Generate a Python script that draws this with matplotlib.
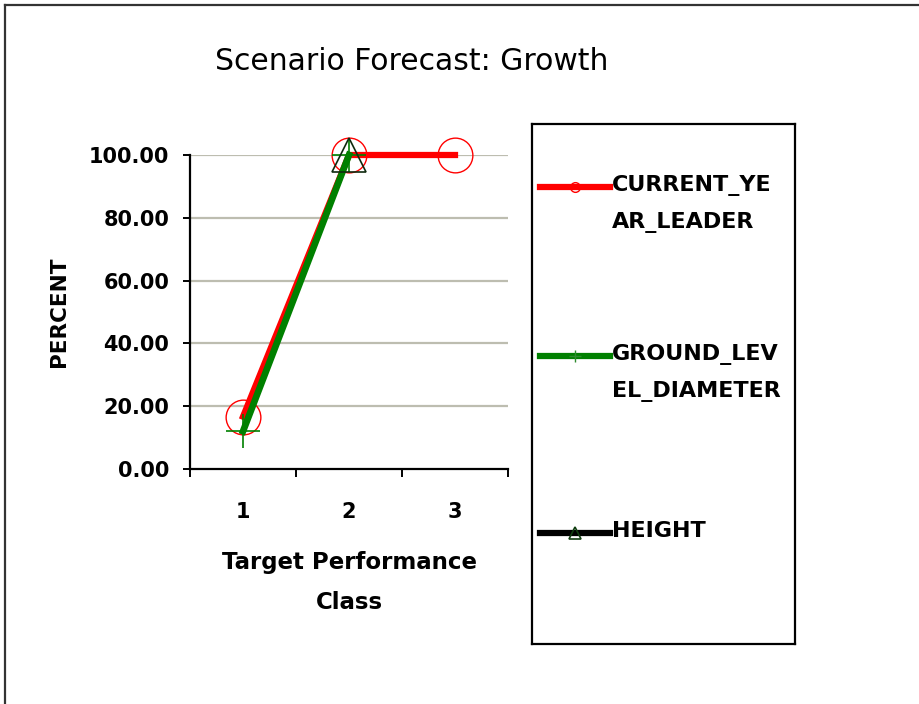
import matplotlib
matplotlib.use("Agg")
import matplotlib.pyplot as plt
import numpy as np
from matplotlib.lines import Line2D
from matplotlib.ticker import FixedLocator, NullFormatter

# data
classes = [1, 2, 3]
current_year_leader = [16.67, 100.0, 100.0]
ground_level_diameter = [12.0, 100.0, np.nan]
height = [np.nan, 100.0, np.nan]
legend_labels = ["CURRENT_YE\nAR_LEADER", "GROUND_LEV\nEL_DIAMETER", "HEIGHT"]
y_ticks = [0, 20, 40, 60, 80, 100]

W, H = 920, 704
fig = plt.figure(figsize=(W / 100, H / 100), dpi=100)
fig.patch.set_facecolor("white")

# outer frame (top + left edges visible)
fig.add_artist(Line2D([5 / W, 5 / W], [0, 1 - 5 / H], transform=fig.transFigure,
                      color="#333333", lw=1.6))
fig.add_artist(Line2D([5 / W, 1], [1 - 5 / H, 1 - 5 / H], transform=fig.transFigure,
                      color="#333333", lw=1.6))

ax = fig.add_axes([190 / W, 1 - 469 / H, (508 - 190) / W, (469 - 155) / H])
ax.set_xlim(0.5, 3.5)
ax.set_ylim(0, 100)

for y in y_ticks[1:]:
    ax.axhline(y, color="#bdbdb0", lw=1.6, zorder=1)

ax.plot(classes, current_year_leader, color="#ff0000", lw=4.5, marker="o",
        ms=25, mfc="none", mec="#ff0000", mew=1.0, zorder=3, clip_on=False)
ax.plot(classes, ground_level_diameter, color="#008000", lw=4.8, marker="+",
        ms=24, mec="#008000", mew=1.2, zorder=4, clip_on=False)
ax.plot(classes, height, color="black", lw=4.5, marker="^", ms=24,
        mfc="none", mec="#0f2a0f", mew=1.2, zorder=5, clip_on=False)

for s in ["top", "right"]:
    ax.spines[s].set_visible(False)
for s in ["left", "bottom"]:
    ax.spines[s].set_linewidth(1.6)
    ax.spines[s].set_color("black")

ax.set_yticks(y_ticks)
ax.set_yticklabels([f"{v:.2f}" for v in y_ticks])
ax.tick_params(axis="y", direction="out", length=5, width=1.4, pad=10,
               labelsize=15)
ax.set_xticks(classes)
ax.set_xticklabels([str(c) for c in classes])
ax.xaxis.set_minor_locator(FixedLocator([0.5, 1.5, 2.5, 3.5]))
ax.xaxis.set_minor_formatter(NullFormatter())
ax.tick_params(axis="x", which="major", length=0, pad=24, labelsize=15)
ax.tick_params(axis="x", which="minor", direction="out", length=6, width=1.4)
for lab in ax.get_xticklabels() + ax.get_yticklabels():
    lab.set_fontweight("bold")

ax.set_xlabel("Target Performance\nClass", fontsize=16.5, fontweight="bold",
              labelpad=21, linespacing=1.9)
ax.set_ylabel("PERCENT", fontsize=15.5, fontweight="bold", labelpad=14)

fig.text(412 / W, 1 - 62 / H, "Scenario Forecast: Growth", fontsize=21.5,
         ha="center", va="center")

# legend box
lax = fig.add_axes([532 / W, 1 - 644 / H, (795 - 532) / W, (644 - 124) / H])
lax.set_xlim(532, 795)
lax.set_ylim(644, 124)
lax.set_xticks([])
lax.set_yticks([])
for s in lax.spines.values():
    s.set_linewidth(1.6)
    s.set_color("black")

styles = [
    dict(color="#ff0000", marker="o", ms=7, mfc="none", mec="#ff0000", mew=1.0),
    dict(color="#008000", marker="+", ms=9, mec="#2e8b2e", mew=1.0),
    dict(color="black", marker="^", ms=9, mfc="none", mec="#0f3d0f", mew=1.2),
]
rows = [187, 356, 533]
for lbl, st, yy in zip(legend_labels, styles, rows):
    lax.plot([540, 610], [yy, yy], lw=4.5, color=st["color"])
    mst = {k: v for k, v in st.items() if k != "color"}
    lax.plot([575], [yy], ls="none", **mst)
    lax.text(612, yy - 12, lbl, fontsize=16, fontweight="bold", ha="left",
             va="top", linespacing=2.0)

fig.savefig("out.png", dpi=100)
